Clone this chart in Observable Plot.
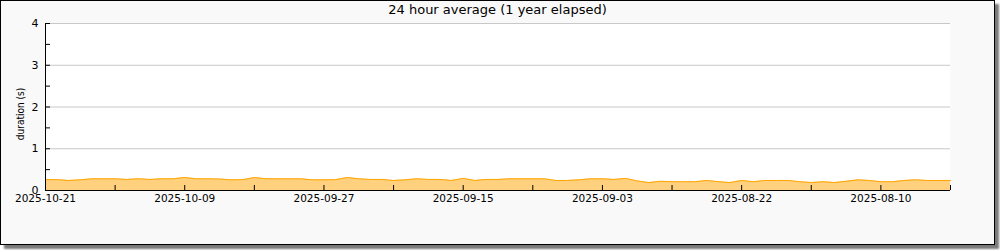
<!DOCTYPE html>
<html>
<head>
<meta charset="utf-8">
<script src="https://cdn.jsdelivr.net/npm/d3@7"></script>
<script src="https://cdn.jsdelivr.net/npm/@observablehq/plot@0.6"></script>
<style>
  html, body { margin: 0; padding: 0; background: #ffffff; }
  #box {
    position: absolute; left: 0; top: 0;
    width: 993px; height: 243px;
    border: 1px solid #000;
    background: #f9f9f9;
    box-shadow: 4px 4px 2px #7a7a7a;
    font-family: "DejaVu Sans", sans-serif;
  }
  #title {
    height: 17px; line-height: 18px;
    font-size: 13px; text-align: center; color: #000;
  }
  #chart svg { display: block; }
</style>
</head>
<body>
<div id="box">
  <div id="title">24 hour average (1 year elapsed)</div>
  <div id="chart"></div>
</div>
<script>
// ---- data ----
const startDate = "2025-10-21";   // leftmost day; one value per day going back in time
const endDate = "2025-08-04";     // rightmost edge of the axis
const durations = [
  0.26, 0.26, 0.24, 0.255, 0.28, 0.28, 0.28, 0.265, 0.28, 0.265,
  0.28, 0.28, 0.31, 0.28, 0.28, 0.275, 0.255, 0.26, 0.31, 0.28,
  0.28, 0.28, 0.28, 0.255, 0.255, 0.26, 0.31, 0.28, 0.265, 0.265,
  0.24, 0.255, 0.28, 0.265, 0.265, 0.24, 0.29, 0.24, 0.265, 0.265,
  0.28, 0.28, 0.28, 0.28, 0.24, 0.24, 0.255, 0.28, 0.28, 0.265,
  0.29, 0.23, 0.19, 0.22, 0.21, 0.21, 0.21, 0.24, 0.21, 0.19,
  0.24, 0.21, 0.24, 0.24, 0.24, 0.21, 0.19, 0.21, 0.19, 0.22,
  0.255, 0.24, 0.21, 0.21, 0.24, 0.255, 0.24, 0.24, 0.24
];
const xTickLabels = ["2025-10-21", "2025-10-09", "2025-09-27", "2025-09-15", "2025-09-03", "2025-08-22", "2025-08-10"];
const yTickLabels = [0, 1, 2, 3, 4];
const yMinorTicks = [0, 0.5, 1, 1.5, 2, 2.5, 3, 3.5, 4];
const tickStepDays = 6;
const yAxisTitle = "duration (s)";

// ---- build ----
const parse = d3.utcParse("%Y-%m-%d");
const fmt = d3.utcFormat("%Y-%m-%d");
const start = parse(startDate);
const end = parse(endDate);
const data = durations.map((v, i) => ({date: d3.utcDay.offset(start, -i), value: v}));
const xTicks = d3.utcDay.range(end, d3.utcDay.offset(start, 1)).filter(d => d3.utcDay.count(d, start) % tickStepDays === 0);
const xLabelDates = xTickLabels.map(parse);

const chart = Plot.plot({
  width: 993,
  height: 202,
  marginLeft: 44,
  marginRight: 44,
  marginTop: 5,
  marginBottom: 30,
  style: {background: "transparent", fontFamily: "DejaVu Sans, sans-serif", fontSize: "10.5px", color: "#000"},
  x: {type: "utc", domain: [start, end]},
  y: {domain: [0, 4]},
  marks: [
    Plot.frame({fill: "white", stroke: "none"}),
    Plot.gridY(yTickLabels.slice(1), {stroke: "#c8c8c8", strokeOpacity: 1}),
    Plot.areaY(data, {x: "date", y: "value", fill: "#ffd17f"}),
    Plot.lineY(data, {x: "date", y: "value", stroke: "#ffa500", strokeWidth: 1}),
    Plot.ruleY([0], {stroke: "#000"}),
    Plot.ruleX([start], {stroke: "#000"}),
    Plot.axisX(xTicks, {tickSize: -5, text: null, label: null, stroke: "#000"}),
    Plot.axisX(xLabelDates, {tickSize: 0, tickPadding: 4, tickFormat: fmt, label: null, fill: "#000"}),
    Plot.axisY(yMinorTicks, {tickSize: -5, text: null, label: null, stroke: "#000"}),
    Plot.axisY(yTickLabels, {tickSize: 0, tickPadding: 7, label: null, fill: "#000", fontSize: 11}),
    Plot.text([yAxisTitle], {frameAnchor: "left", textAnchor: "middle", rotate: -90, dx: -25, dy: 7, fill: "#000", fontSize: 10, fontFamily: "DejaVu Sans Condensed, DejaVu Sans, sans-serif"})
  ]
});
document.getElementById("chart").append(chart);
</script>
</body>
</html>
